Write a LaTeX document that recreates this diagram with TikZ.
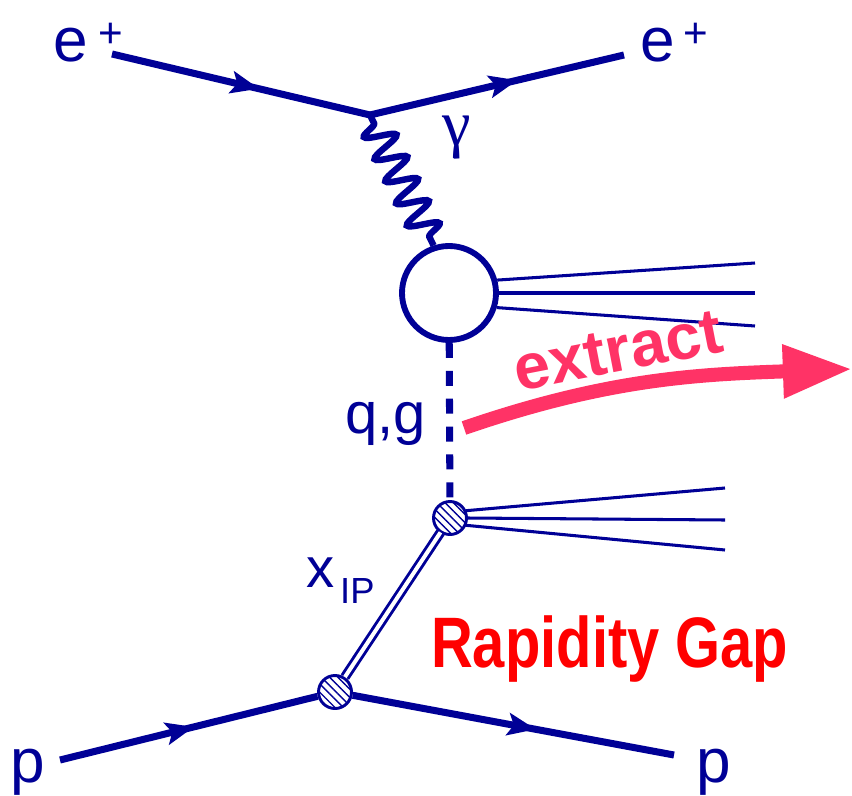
\documentclass[tikz,border=0pt]{standalone}
\usepackage{fontspec}
\setmainfont{Liberation Sans}
\newfontfamily\greekfont{Liberation Serif}
\usetikzlibrary{arrows.meta,decorations.pathmorphing,decorations.markings,patterns.meta}
\definecolor{feyn}{RGB}{0,0,150}
\definecolor{gapred}{RGB}{255,0,0}
\definecolor{xpink}{RGB}{255,51,102}
\newcommand{\posi}[1]{e\hspace{#1}\raisebox{12.8pt}{\fontsize{36pt}{36pt}\selectfont +}}

\begin{document}
\begin{tikzpicture}[
  x=0.03cm, y=-0.03cm,
  lbl/.style={text=feyn, inner sep=0pt, font=\fontsize{53pt}{60pt}\selectfont},
  fermion/.style={color=feyn, line width=6pt, postaction={decorate},
    decoration={markings, mark=at position #1 with {\arrow{Stealth[length=24pt,width=19pt,inset=5pt]}}}},
  fermion/.default=0.55,
  photon/.style={draw=feyn, line width=5.5pt, decorate,
    decoration={snake, mirror, amplitude=13pt, segment length=21pt, pre length=8pt, post length=8pt}},
  gluon/.style={draw=feyn, line width=6pt, dash pattern=on 12.8pt off 11pt},
  pomeron/.style={draw=feyn, line width=2.5pt, double=white, double distance=3.4pt},
  jet/.style={draw=feyn, line width=2.6pt},
  blob/.style={circle, draw=feyn, line width=5pt, fill=white, minimum size=2.82cm, inner sep=0pt},
  vtx/.style={circle, draw=feyn, line width=2.5pt, minimum size=0.99cm, inner sep=0pt,
    preaction={fill=white}, pattern={Lines[angle=-45,distance=5pt,line width=1.2pt]}, pattern color=feyn},
  extract/.style={draw=xpink, line width=12pt, -{Triangle[length=59pt,width=43pt]}},
  gap/.style={text=gapred, inner sep=0pt, font=\fontsize{61pt}{66pt}\selectfont\bfseries, xscale=0.81},
  xtr/.style={text=xpink, inner sep=0pt, font=\fontsize{55pt}{60pt}\selectfont\bfseries}
]
\useasboundingbox (0,0) rectangle (852,795);

\coordinate (ein) at (112,54);
\coordinate (vee) at (370,115);
\coordinate (eout) at (624,55);
\node[blob] (hard) at (449,293) {};
\node[vtx] (pom) at (450,518) {};
\node[vtx] (vpp) at (335,692) {};
\coordinate (pin) at (60,760);
\coordinate (pout) at (674,755);

\draw[fermion=0.57] (ein) -- (vee);
\draw[fermion=0.58] (vee) -- (eout);
\draw[photon] (vee) -- (hard.108);
\draw[gluon] (hard) -- (pom);
\draw[pomeron] (pom) -- (vpp);
\draw[fermion=0.52] (pin) -- (vpp);
\draw[fermion=0.57] (vpp) -- (pout);

\foreach \a/\y [count=\i] in {15/263, 0/293, -17/326} {
  \coordinate (jet\i) at (755,\y);
  \draw[jet] (hard.\a) -- (jet\i);
}
\foreach \a/\y [count=\i] in {25/488, 0/520, -25/550} {
  \coordinate (rem\i) at (725,\y);
  \draw[jet] (pom.\a) -- (rem\i);
}

\coordinate (xs) at (464,428);
\coordinate (xe) at (852,369);
\draw[extract] (xs) to[out=19,in=182] (xe);

\node[lbl, anchor=base west] (epin) at (53.5,62) {\posi{8.5pt}};
\node[lbl, anchor=base west] (epout) at (640.5,62) {\posi{7pt}};
\node[lbl, anchor=base, font=\fontsize{55pt}{60pt}\greekfont] (gam) at (457,146) {γ};
\node[lbl, anchor=base west, font=\fontsize{49.5pt}{55pt}\selectfont] (qg) at (345,433) {q,g};
\node[lbl, anchor=base west, font=\fontsize{48pt}{55pt}\selectfont] (xip) at (306,587) {x\hspace{5pt}\raisebox{-14.5pt}{\fontsize{31pt}{31pt}\selectfont IP}};
\node[lbl, anchor=base west] (pl) at (10,782) {p};
\node[lbl, anchor=base west] (pr) at (696,782) {p};
\node[gap, anchor=base west] (rg) at (431,667) {Rapidity Gap};
\node[xtr, rotate=11] (ex) at (618,351) {extract};
\end{tikzpicture}
\end{document}
